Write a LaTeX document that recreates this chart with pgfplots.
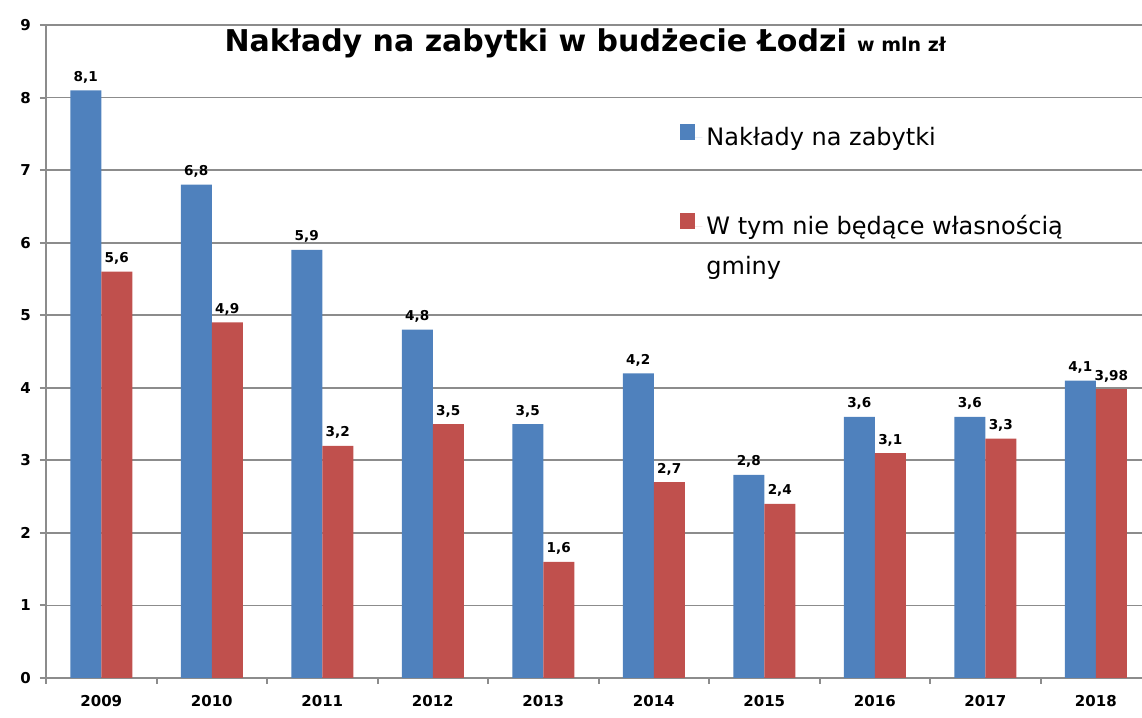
\documentclass[border=0pt]{standalone}
\usepackage{pgfplots}
\pgfplotsset{compat=1.18}
\usepackage{fontspec}
\setmainfont{DejaVu Sans}
\definecolor{cblue}{HTML}{4F81BD}
\definecolor{cred}{HTML}{C0504D}
\definecolor{cgrid}{HTML}{8C8C8C}
\pgfplotsset{sqlegend/.style={legend image code/.code={\path (0pt,0pt) -- (11pt,0pt);\fill[##1] (0pt,-1pt) rectangle (7.5pt,7pt);}}}
\begin{document}
\begin{tikzpicture}
\begin{axis}[
  scale only axis, width=548pt, height=326.5pt,
  xmin=-0.5, xmax=9.418, ymin=0, ymax=9,
  ybar=0pt, bar width=15.5pt,
  axis x line*=bottom, axis y line*=left,
  axis line style={cgrid, line width=1pt},
  ytick={0,...,9}, ymajorgrids, grid style={cgrid, line width=0.9pt},
  xtick={0,...,9}, xticklabels={2009,2010,2011,2012,2013,2014,2015,2016,2017,2018},
  minor xtick={-0.5,0.5,...,8.5}, minor ytick={0,...,9},
  tick align=outside, major tick length=0pt, minor tick length=3pt,
  tick style={cgrid, line width=1pt},
  /pgf/number format/assume math mode=true,
  /pgf/number format/use comma,
  ticklabel style={font=\bfseries\fontsize{7.5}{9}\selectfont},
  xticklabel style={yshift=-5pt},
  yticklabel style={xshift=-4pt},
  nodes near coords,
  every node near coord/.append style={font=\bfseries\fontsize{6.8}{8}\selectfont, text=black, /pgf/number format/use comma},
  legend style={at={(rel axis cs:0.5785,0.85)}, anchor=north west, draw=none, fill=none,
    font=\fontsize{12}{20}\selectfont, row sep=29.5pt, inner sep=0pt},
  legend cell align=left,
]
\addplot[fill=cblue, draw=none, sqlegend] coordinates {
  (0,8.1) (1,6.8) (2,5.9) (3,4.8) (4,3.5) (5,4.2) (6,2.8) (7,3.6) (8,3.6) (9,4.1)};
\addlegendentry{Nakłady na zabytki}
\addplot[fill=cred, draw=none, sqlegend] coordinates {
  (0,5.6) (1,4.9) (2,3.2) (3,3.5) (4,1.6) (5,2.7) (6,2.4) (7,3.1) (8,3.3) (9,3.98)};
\addlegendentry{\parbox[t]{220pt}{\raggedright W tym nie będące własnością\\gminy}}
\node[font=\bfseries\fontsize{15}{17}\selectfont, text=black] at (rel axis cs:0.492,0.972)
  {Nakłady na zabytki w budżecie Łodzi {\fontsize{9.5}{10}\selectfont w mln zł}};
\coordinate (sw) at (rel axis cs:0,0);
\coordinate (ne) at (rel axis cs:1,1);
\end{axis}
\pgfresetboundingbox
\path[use as bounding box] ([xshift=-23pt,yshift=-20pt]sw) rectangle ([yshift=12.5pt]ne);
\end{tikzpicture}
\end{document}
